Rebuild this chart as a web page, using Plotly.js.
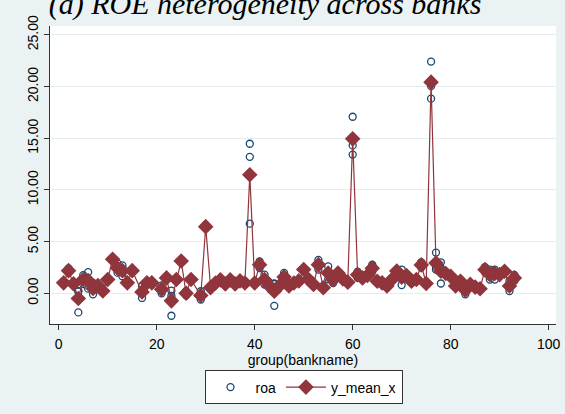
<!DOCTYPE html>
<html>
<head>
<meta charset="utf-8">
<script src="https://cdn.plot.ly/plotly-3.0.1.min.js"></script>
<style>html,body{margin:0;padding:0;background:#EAF2F3;}#chart{width:565px;height:414px;}</style>
</head>
<body>
<div id="chart"></div>
<script>
// Bank group ids (x) and the mean ROA per bank (y_mean_x)
const banks = [1,2,3,4,5,6,7,8,9,10,11,12,13,14,15,17,18,19,21,22,23,24,25,26,27,29,30,31,32,33,34,35,36,37,38,39,40,41,42,43,44,45,46,47,48,49,50,51,52,53,54,55,56,57,58,59,60,61,62,63,64,65,66,67,68,69,70,71,72,73,74,75,76,77,78,79,80,81,82,83,84,85,86,87,88,89,90,91,92,93];
const yMeanX = [1.01,2.19,0.92,-0.50,1.33,1.24,0.47,0.76,0.22,1.33,3.30,2.44,2.19,1.01,2.19,0.12,1.01,1.01,0.38,1.49,-0.73,1.33,3.12,0.00,1.33,-0.22,6.45,0.55,1.00,1.30,0.90,1.30,0.90,1.20,1.00,11.47,1.00,2.76,1.33,0.70,0.21,0.70,1.58,0.70,1.00,1.20,2.30,1.33,0.86,2.77,0.54,1.97,1.30,1.97,1.40,1.08,14.94,1.80,1.49,1.72,2.43,1.17,1.01,0.70,1.33,2.15,1.55,1.72,1.17,1.33,2.75,0.95,20.43,2.93,2.13,1.91,1.65,0.70,1.17,0.31,0.86,0.60,0.44,2.29,1.81,1.91,1.81,2.13,0.70,1.49];

// Individual roa observations: bank id and value
const roaBank = [1,2,2,3,4,4,4,5,5,6,6,7,7,8,8,9,10,11,12,12,13,13,14,15,17,17,18,19,21,21,22,23,23,23,24,25,26,26,27,29,29,30,30,31,32,33,34,35,36,37,38,39,39,39,40,41,41,42,42,43,44,44,44,45,46,46,47,48,49,50,51,52,53,53,54,55,55,56,56,57,58,59,60,60,60,61,61,62,63,64,64,65,66,67,68,69,69,70,70,71,72,73,74,74,75,76,76,76,77,77,77,78,78,78,79,80,81,82,83,83,84,85,86,87,87,88,88,89,89,89,90,91,92,92,93,93];
const roaVal  = [1.0,2.4,2.0,0.9,0.2,0.2,-1.85,1.75,0.9,2.05,0.45,-0.1,1.0,0.9,0.6,0.2,1.3,3.3,2.9,2.0,1.65,2.7,1.0,2.2,0.7,-0.45,1.0,1.0,0.76,0.0,1.5,0.25,-0.26,-2.17,1.33,3.1,0.2,-0.2,1.33,0.2,-0.6,6.6,6.3,0.55,1.0,1.3,0.9,1.3,0.9,1.2,1.0,14.47,13.2,6.74,1.0,3.08,2.45,1.81,0.85,0.7,-1.21,0.9,0.95,0.7,1.97,1.2,0.7,1.0,1.2,2.3,1.33,0.86,3.24,2.3,0.54,2.6,1.35,1.0,1.6,1.97,1.4,1.08,17.08,14.31,13.42,2.1,1.5,1.49,1.72,2.76,2.1,1.17,1.01,0.7,1.33,2.3,2.0,2.3,0.8,1.72,1.17,1.33,3.0,2.5,0.95,22.42,20.05,18.83,3.94,2.29,2.55,3.0,0.95,2.45,1.91,1.65,0.7,1.17,-0.1,0.72,0.86,0.6,0.44,2.54,2.04,1.33,2.29,2.29,1.33,2.1,1.81,2.13,0.22,1.18,1.2,1.78];

const yTicks = [0,5,10,15,20,25];
const yTickText = ['0.00','5.00','10.00','15.00','20.00','25.00'];
const xTicks = [0,20,40,60,80,100];

const navy = '#1A476F', maroon = '#90353B';
const font = 'Liberation Sans, Arial, sans-serif';

const traces = [
  {x: roaBank, y: roaVal, type: 'scatter', mode: 'markers', name: 'roa',
   marker: {symbol: 'circle-open', size: 7, color: navy, line: {width: 1.3, color: navy}}},
  {x: banks, y: yMeanX, type: 'scatter', mode: 'lines+markers', name: 'y_mean_x',
   line: {color: maroon, width: 1.2},
   marker: {symbol: 'diamond', size: 12, color: maroon}}
];

const layout = {
  width: 565, height: 414,
  paper_bgcolor: '#EAF2F3', plot_bgcolor: '#FFFFFF',
  margin: {l: 50, r: 9, t: 26, b: 85.3, pad: 0},
  font: {family: font, size: 14, color: '#000'},
  title: {text: '<i>(a) ROE heterogeneity across banks</i>',
          font: {family: 'Liberation Serif, Times New Roman, serif', size: 30, color: '#000'},
          xref: 'container', x: 0.469, xanchor: 'center',
          yref: 'container', y: 0.966, yanchor: 'bottom'},
  xaxis: {range: [-1.78, 101.5], tickvals: xTicks, ticks: 'outside', ticklen: 5, tickcolor: '#333', tickwidth: 1,
          showline: true, linecolor: '#333', linewidth: 1, showgrid: false, zeroline: false,
          tickfont: {size: 14, family: font}, ticklabelstandoff: 2,
          title: {text: 'group(bankname)', font: {size: 14, family: font}, standoff: 1}},
  yaxis: {range: [-2.97, 25.86], tickvals: yTicks, ticktext: yTickText, tickangle: -90,
          ticks: 'outside', ticklen: 5, tickcolor: '#333', tickwidth: 1,
          showline: true, linecolor: '#333', linewidth: 1,
          showgrid: true, gridcolor: '#E4EDF1', gridwidth: 1, zeroline: false,
          tickfont: {size: 14, family: font}},
  showlegend: true,
  legend: {orientation: 'h', x: 0.501, xanchor: 'center', y: -0.156, yanchor: 'top',
           bgcolor: '#FFFFFF', bordercolor: '#333', borderwidth: 1,
           font: {size: 14, family: font}, itemwidth: 40, traceorder: 'normal'}
};

Plotly.newPlot('chart', traces, layout, {displayModeBar: false, staticPlot: true});
</script>
</body>
</html>
